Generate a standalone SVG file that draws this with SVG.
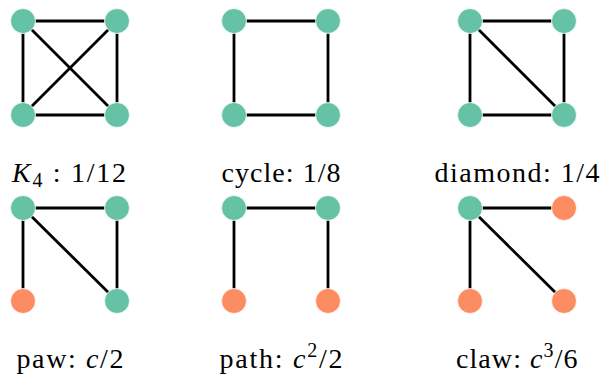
<svg xmlns="http://www.w3.org/2000/svg" width="602" height="377" viewBox="0 0 602 377">
<style>
.e{stroke:#000;stroke-width:2.8;fill:none}
.g{fill:#66c2a5;stroke:#fff;stroke-width:0.8}
.o{fill:#fc8d62;stroke:#fff;stroke-width:0.8}
text{font-family:"Liberation Serif","DejaVu Serif",serif;font-size:28px;fill:#000}
.i{font-style:italic}
.s{font-size:20px}
</style>
<rect width="602" height="377" fill="#fff"/>
<g id="connectors">
<path class="e" d="M23,21H117V115H23Z M23,21L117,115 M117,21L23,115"/>
<path class="e" d="M234,21H328V115H234Z"/>
<path class="e" d="M470,21H564V115H470Z M470,21L564,115"/>
<path class="e" d="M23,208H117V301 M23,208V301 M23,208L117,301"/>
<path class="e" d="M234,301V208H328V301"/>
<path class="e" d="M470,208H564 M470,208V301 M470,208L564,301"/>
</g>
<g id="K4">
<circle class="g" cx="23" cy="21" r="12.5"/><circle class="g" cx="117" cy="21" r="12.5"/>
<circle class="g" cx="23" cy="115" r="12.5"/><circle class="g" cx="117" cy="115" r="12.5"/>
<text x="12" y="182" textLength="114" lengthAdjust="spacing" xml:space="preserve"><tspan class="i">K</tspan><tspan class="s" dy="5">4</tspan><tspan dy="-5"> : 1/12</tspan></text>
</g>
<g id="cycle">
<circle class="g" cx="234" cy="21" r="12.5"/><circle class="g" cx="328" cy="21" r="12.5"/>
<circle class="g" cx="234" cy="115" r="12.5"/><circle class="g" cx="328" cy="115" r="12.5"/>
<text x="221.5" y="182" textLength="119" lengthAdjust="spacing" xml:space="preserve">cycle: 1/8</text>
</g>
<g id="diamond">
<circle class="g" cx="470" cy="21" r="12.5"/><circle class="g" cx="564" cy="21" r="12.5"/>
<circle class="g" cx="470" cy="115" r="12.5"/><circle class="g" cx="564" cy="115" r="12.5"/>
<text x="434.5" y="182" textLength="165" lengthAdjust="spacing" xml:space="preserve">diamond: 1/4</text>
</g>
<g id="paw">
<circle class="g" cx="23" cy="208" r="12.5"/><circle class="g" cx="117" cy="208" r="12.5"/>
<circle class="o" cx="23" cy="301" r="12.5"/><circle class="g" cx="117" cy="301" r="12.5"/>
<text x="16.5" y="368" textLength="107" lengthAdjust="spacing" xml:space="preserve">paw: <tspan class="i">c</tspan>/2</text>
</g>
<g id="path">
<circle class="g" cx="234" cy="208" r="12.5"/><circle class="g" cx="328" cy="208" r="12.5"/>
<circle class="o" cx="234" cy="301" r="12.5"/><circle class="o" cx="328" cy="301" r="12.5"/>
<text x="219.5" y="368" textLength="123" lengthAdjust="spacing" xml:space="preserve">path: <tspan class="i">c</tspan><tspan class="s" dy="-11">2</tspan><tspan dy="11">/2</tspan></text>
</g>
<g id="claw">
<circle class="g" cx="470" cy="208" r="12.5"/><circle class="o" cx="564" cy="208" r="12.5"/>
<circle class="o" cx="470" cy="301" r="12.5"/><circle class="o" cx="564" cy="301" r="12.5"/>
<text x="456" y="368" textLength="121.5" lengthAdjust="spacing" xml:space="preserve">claw: <tspan class="i">c</tspan><tspan class="s" dy="-11">3</tspan><tspan dy="11">/6</tspan></text>
</g>
</svg>
